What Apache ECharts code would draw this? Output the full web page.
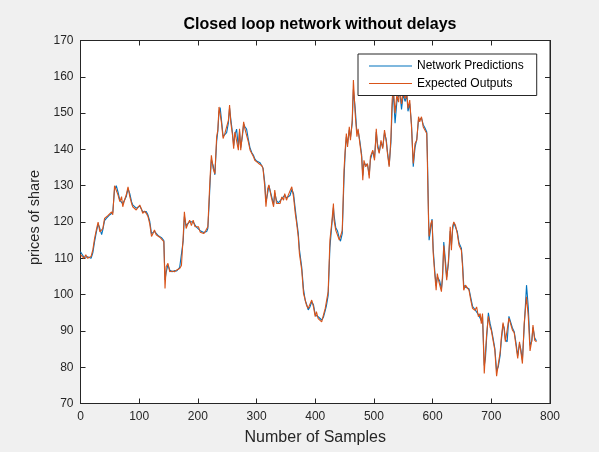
<!DOCTYPE html>
<html>
<head>
<meta charset="utf-8">
<script src="https://cdn.jsdelivr.net/npm/echarts@6/dist/echarts.min.js"></script>
<style>
html,body{margin:0;padding:0;background:#f0f0f0;}
#c{width:599px;height:452px;}
</style>
</head>
<body>
<div id="c"></div>
<script>
var titleText = 'Closed loop network without delays';
var xName = 'Number of Samples';
var yName = 'prices of share';
var seriesNames = ['Network Predictions', 'Expected Outputs'];
var seriesColors = ['#0072BD', '#D95319'];

var samples = [0,3,6,9,12,15,18,21,24,27,30,33,36,38,41,44,47,50,53,55,58,61,64,67,70,72,75,78,81,84,87,89,92,95,98,101,104,106,109,112,115,118,121,124,126,129,132,135,138,142,144,146,149,152,156,160,164,169,172,175,177,180,183,186,189,192,195,198,201,204,207,210,213,215,217,219,221,223,226,229,232,234,236,238,240,243,246,249,252,254,256,259,261,263,266,269,271,273,276,278,280,283,286,289,292,295,297,300,303,306,309,311,314,316,319,321,325,329,331,334,337,340,343,346,348,351,354,357,360,363,366,368,371,373,377,380,383,385,388,391,394,397,400,402,405,408,411,414,417,419,422,425,428,431,432,435,438,441,443,446,449,451,453,455,458,460,463,465,468,471,473,476,479,481,483,486,489,492,494,498,501,504,506,509,512,515,518,521,523,526,529,531,533,536,539,542,544,547,550,553,556,558,561,564,567,570,573,576,578,581,584,587,590,591,593,594,597,599,601,604,606,608,610,612,615,617,619,622,624,627,630,632,634,636,639,642,645,649,651,653,656,659,662,665,668,672,675,678,681,683,685,688,690,692,695,698,700,703,706,709,712,715,717,720,722,724,727,730,733,736,739,742,745,748,750,753,756,760,763,766,769,771,774,777];

var expected = [111,110.5,110,111,110,109.8,110.5,112.3,115.5,117.8,120,117.3,116.9,118.2,121,120.5,121.8,121.5,122.8,122,130,129.6,127.4,125.6,127,124.2,126,127.5,129.7,127,125.1,124.2,124.6,123.3,124,124.7,123.5,122.4,123,122.4,121.5,119.5,116,117,117.8,116.5,116,115.8,115.5,114.6,101.7,107.7,108.6,106.3,106.5,106.3,106.8,107.2,108,116,122.8,118.2,119.5,120.5,119,120.5,118.7,118.2,118.7,117.2,117.5,116.8,117.5,117,118.7,126,132.9,138.4,134.7,133.3,143.5,145.3,151.7,151.3,147.6,143,144.4,144.8,148,152.2,147.6,143.9,140.2,144.8,145.3,139.8,145.7,139.8,144.4,147.6,145.7,145.3,142.1,139.8,139.3,137.9,137,136.6,136.2,136.6,135.5,134.7,129.7,124.2,129.2,130.2,126.9,124.2,128.8,125.1,125.6,125.1,126.9,126,127.8,126,127.4,126.9,129.7,126.9,122.3,120,116,111.3,106.7,100.3,98.5,97.1,96.2,96.2,98.5,96.6,93.9,95.3,93.4,93.9,92.5,94.4,96.2,96.6,100.8,115,119.6,125.1,120.5,117.7,117.3,115,115,117.7,134.3,139.8,144.4,140.7,146.2,142.5,148,159.1,149.9,143.5,145.7,141.6,138,131.5,137,135.2,136.1,132,138,139.8,137,145.7,140.7,138.9,142.5,140.2,145.3,142.1,138.9,135.2,143.5,153.6,157,150,155,153,157,152.5,156,154,155.5,151.3,153.6,146.2,136.1,141.6,142.5,149,147.6,149,146.2,145.7,144.4,137,120.5,116,119.6,120.5,111.3,104.9,101.2,105.8,104,104,100.8,105.8,113.5,107.6,104,109.5,118.7,112.2,118.7,120,119.1,116.8,113.6,112.2,107.6,101.2,102.6,102.1,101.2,98.5,96.2,95.7,96.6,93.9,94.8,92,94.8,78.3,84,89,94,91,90.2,87.4,84.7,77.5,81,84,88,92.3,90.2,87,87.4,93.5,93,90.2,89.5,86,82.4,87,84.7,81,92,99.4,93.9,84.5,87.4,91.6,87.4,87];

var predictions = [111.8,111.5,110.3,110.8,110.4,110.2,110,111.5,114.6,117.2,119.5,118.2,116.5,117.8,120.4,121,121.2,122,122.3,122.6,129,130,128.2,126,126.5,125,125.5,127,129.2,127.8,125.6,124.7,124.3,123.8,123.6,124.4,124,122.8,122.6,122.9,121.9,120.2,116.8,116.5,117.4,117,116.3,116.2,115.7,114.9,104,106.2,108.2,106.8,106.3,106.6,106.5,107.5,107.6,114.8,121.5,119,119,120.1,119.6,120,119.2,118.5,118.3,117.6,117.2,117.1,117.2,117.4,118.2,124.5,131.5,137.2,135.6,133,142.2,145,150.4,151.5,148.4,143.6,144,144.6,147.3,151.4,148.5,144.6,141,144,145.6,140.6,145,140.5,143.8,147,146.3,145.6,142.8,140.3,139.1,138.3,137.4,136.8,136.5,136.3,135.9,134.9,130.8,125.5,128,130,127.5,124.8,128,125.9,125.3,125.4,126.4,126.5,127.4,126.6,127,127.3,129,127.8,123.5,120.8,117,112.5,107.5,101.5,98.3,97.5,95.8,96.6,98,97.2,94.4,94.8,93.9,93.6,93,93.8,95.6,96.9,99.8,113,118.8,124,122,118.4,117.5,115.5,114.7,116.8,132,139,143.5,141.5,145.4,143.2,147.2,156.5,151.5,144.5,145.2,142.3,138.6,132.8,136,135.6,135.8,133,137.2,139.5,137.6,144.8,141.6,139.2,142,140.6,144.6,142.7,139.4,135.6,142,151.5,156,147.2,153,153.5,156,151,155.2,153.2,155,150.5,152.6,147,135.2,140.5,142.8,148.2,148.2,148.6,146.8,145.9,144.8,139,122,115,118.5,120.8,112.5,105.8,102.4,104.9,104.6,103.8,101.5,104.6,114.5,109,104.8,108.6,117.5,113.5,117.8,119.8,119.6,117.4,114.2,112.8,108.6,102.6,102,102.5,101.6,99.2,96.8,95.9,96.2,94.5,94.3,92.8,94,80.5,82.5,88,95,92,90.6,88,85.2,79,80.2,83.2,87.2,91.8,90.8,87.6,87,94,93.6,90.8,89.8,86.8,83.2,86.4,85.2,82,91,102.6,96.5,86,87.2,91,88,87.3];

var xTicks = {min: 0, max: 800, interval: 100};
var yTicks = {min: 70, max: 170, interval: 10};

function pairs(xs, ys) {
  var out = [];
  for (var i = 0; i < xs.length; i++) out.push([xs[i], ys[i]]);
  return out;
}

var axisColor = '#262626';
var font = '"Liberation Sans", Arial, Helvetica, sans-serif';
var tickStyle = {show: true, inside: true, length: 5, lineStyle: {color: axisColor, width: 1}};
var lineAxis = {show: true, onZero: false, lineStyle: {color: axisColor, width: 1}};
var legendLineIcon = 'path://M0,0h43v0.01h-43z M0,5.4h43v1.2h-43z M0,11.99h43v0.01h-43z';

var chart = echarts.init(document.getElementById('c'), null, {renderer: 'canvas'});
chart.setOption({
  backgroundColor: '#f0f0f0',
  animation: false,
  title: {
    text: titleText,
    left: 315, top: 12, textAlign: 'center',
    textStyle: {fontFamily: font, fontSize: 16, fontWeight: 'bold', color: '#000'}
  },
  legend: {
    orient: 'vertical',
    left: 358, top: 54,
    padding: [6, 13, 6, 11],
    itemWidth: 43, itemHeight: 12, itemGap: 5.5,
    backgroundColor: '#ffffff',
    borderColor: axisColor, borderWidth: 1,
    textStyle: {fontFamily: font, fontSize: 12, color: '#000'},
    data: [
      {name: seriesNames[0], icon: legendLineIcon, itemStyle: {color: seriesColors[0]}},
      {name: seriesNames[1], icon: legendLineIcon, itemStyle: {color: seriesColors[1]}}
    ],
    z: 10
  },
  grid: {
    left: 80.5, top: 40.5, right: 49, bottom: 48.5,
    show: true, backgroundColor: '#ffffff', borderColor: axisColor, borderWidth: 1
  },
  xAxis: [{
    type: 'value', min: xTicks.min, max: xTicks.max, interval: xTicks.interval,
    name: xName, nameLocation: 'middle', nameGap: 26,
    nameTextStyle: {fontFamily: font, fontSize: 16, color: axisColor},
    axisLine: lineAxis, axisTick: tickStyle,
    axisLabel: {fontFamily: font, fontSize: 12, color: axisColor, margin: 7},
    splitLine: {show: false}
  }, {
    type: 'value', position: 'top', min: xTicks.min, max: xTicks.max, interval: xTicks.interval,
    axisLine: lineAxis, axisTick: tickStyle,
    axisLabel: {show: false}, splitLine: {show: false}
  }],
  yAxis: [{
    type: 'value', min: yTicks.min, max: yTicks.max, interval: yTicks.interval,
    name: yName, nameLocation: 'middle', nameGap: 29,
    nameTextStyle: {fontFamily: font, fontSize: 14.5, color: axisColor, padding: [0, 0, 0, 9]},
    axisLine: lineAxis, axisTick: tickStyle,
    axisLabel: {fontFamily: font, fontSize: 12, color: axisColor, margin: 7},
    splitLine: {show: false}
  }, {
    type: 'value', position: 'right', min: yTicks.min, max: yTicks.max, interval: yTicks.interval,
    axisLine: lineAxis, axisTick: tickStyle,
    axisLabel: {show: false}, splitLine: {show: false}
  }],
  series: [{
    name: seriesNames[0], type: 'line', xAxisIndex: 0, yAxisIndex: 0,
    data: pairs(samples, predictions),
    symbol: 'none', showSymbol: false,
    lineStyle: {color: seriesColors[0], width: 1.1},
    itemStyle: {color: seriesColors[0]},
    z: 2
  }, {
    name: seriesNames[1], type: 'line', xAxisIndex: 0, yAxisIndex: 0,
    data: pairs(samples, expected),
    symbol: 'none', showSymbol: false,
    lineStyle: {color: seriesColors[1], width: 1.1},
    itemStyle: {color: seriesColors[1]},
    z: 3
  }]
});
</script>
</body>
</html>
